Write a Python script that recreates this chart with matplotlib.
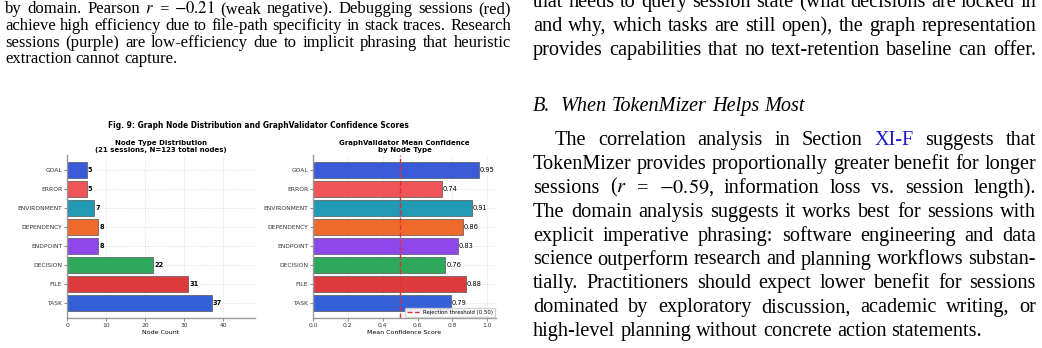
import matplotlib
matplotlib.use("Agg")
import matplotlib.pyplot as plt

W, H = 1042, 348

# chart data (bottom to top)
node_types = ['TASK', 'FILE', 'DECISION', 'ENDPOINT', 'DEPENDENCY', 'ENVIRONMENT', 'ERROR', 'GOAL']
node_counts = [37, 31, 22, 8, 8, 7, 5, 5]
mean_conf = [0.79, 0.88, 0.76, 0.83, 0.86, 0.91, 0.74, 0.95]
bar_colors = ['#3461d8', '#dd3b3b', '#2ea95c', '#8e47ea', '#ee6a2a', '#2299b5', '#ef5458', '#3a5bd9']
threshold = 0.50

# surrounding page text
left_lines = [
    "by domain. Pearson $r$ = $-0.21$ (weak negative). Debugging sessions (red)",
    "achieve high efficiency due to file-path specificity in stack traces. Research",
    "sessions (purple) are low-efficiency due to implicit phrasing that heuristic",
    "extraction cannot capture.",
]
right_top = [
    "that needs to query session state (what decisions are locked in",
    "and why, which tasks are still open), the graph representation",
    "provides capabilities that no text-retention baseline can offer.",
]
heading = "B.  When TokenMizer Helps Most"
right_para = [
    "The correlation analysis in Section XI-F suggests that",
    "TokenMizer provides proportionally greater benefit for longer",
    "sessions ($r$ = $-0.59$, information loss vs. session length).",
    "The domain analysis suggests it works best for sessions with",
    "explicit imperative phrasing: software engineering and data",
    "science outperform research and planning workflows substan-",
    "tially. Practitioners should expect lower benefit for sessions",
    "dominated by exploratory discussion, academic writing, or",
    "high-level planning without concrete action statements.",
]
link_words = {'XI-F': '#1a1acc'}

plt.rcParams['mathtext.fontset'] = 'stix'

fig = plt.figure(figsize=(W / 100, H / 100), dpi=100)
renderer = fig.canvas.get_renderer()


def fx(px):
    return px / W


def fy(py):
    return 1 - py / H


def put_line(line, x0, x1, base, size, justify=True, style='normal'):
    words = line.split(' ')
    texts = []
    for w in words:
        t = fig.text(0, fy(base), w, fontsize=size, family='Liberation Serif',
                     style=style, color=link_words.get(w, 'black'), va='baseline')
        texts.append(t)
    widths = [t.get_window_extent(renderer).width for t in texts]
    natural = size * 100 / 72 * 0.25
    if justify and len(words) > 1:
        gap = (x1 - x0 - sum(widths)) / (len(words) - 1)
    else:
        gap = natural
    x = x0
    for t, w in zip(texts, widths):
        t.set_x(fx(x))
        x += w + gap


# left column text
lsize = 12
for i, line in enumerate(left_lines):
    put_line(line, 5, 511, 13 + 16.8 * i, lsize, justify=(i < len(left_lines) - 1))

# right column text
rsize = 14.6
for i, line in enumerate(right_top):
    put_line(line, 533, 1036, 7 + 24 * i, rsize)
put_line(heading, 533, 1036, 111, rsize, justify=False, style='italic')
for i, line in enumerate(right_para):
    x0 = 555 if i == 0 else 533
    put_line(line, x0, 1036, 145 + 23.9 * i, rsize, justify=(i < len(right_para) - 1))

# figure
fig.text(fx(258), fy(125), "Fig. 9: Graph Node Distribution and GraphValidator Confidence Scores",
         fontsize=5.45, fontweight='bold', ha='center', va='center')

ax1 = fig.add_axes([fx(67), fy(318), fx(255) - fx(67), fy(155) - fy(318)])
ax2 = fig.add_axes([fx(313), fy(318), fx(496) - fx(313), fy(155) - fy(318)])

ypos = list(range(len(node_types)))

ax1.barh(ypos, node_counts, height=0.8, color=bar_colors, edgecolor='#555555', linewidth=0.5)
for y, v in zip(ypos, node_counts):
    ax1.text(v + 0.3, y, str(v), fontsize=4.8, fontweight='bold', va='center', ha='left')
ax1.set_xlim(0, max(node_counts) * 1.3)
ax1.set_title("Node Type Distribution\n(21 sessions, N=123 total nodes)",
              fontsize=5.0, fontweight='bold', pad=2.5, linespacing=1.05)
ax1.set_xlabel("Node Count", fontsize=4.5, labelpad=1.5)

ax2.barh(ypos, mean_conf, height=0.8, color=bar_colors, edgecolor='#555555', linewidth=0.5)
for y, v in zip(ypos, mean_conf):
    ax2.text(v + 0.004, y, f"{v:.2f}", fontsize=4.8, va='center', ha='left')
ax2.axvline(threshold, color='#e03131', linestyle='--', linewidth=1.0,
            label=f"Rejection threshold ({threshold:.2f})")
ax2.set_xlim(0, 1.05)
ax2.set_xticks([0, 0.2, 0.4, 0.6, 0.8, 1.0])
ax2.set_title("GraphValidator Mean Confidence\nby Node Type",
              fontsize=5.0, fontweight='bold', pad=2.5, linespacing=1.05)
ax2.set_xlabel("Mean Confidence Score", fontsize=4.5, labelpad=1.5)
ax2.legend(loc='lower right', fontsize=3.9, frameon=True, handlelength=2.2,
           borderpad=0.35, framealpha=0.9, edgecolor='#cccccc', fancybox=True,
           borderaxespad=0.2)

for ax in (ax1, ax2):
    ax.set_yticks(ypos)
    ax.set_yticklabels(node_types)
    ax.tick_params(axis='both', labelsize=4.3, length=2, width=0.5, pad=1.5,
                   color='#555555', labelcolor='#333333')
    ax.set_axisbelow(True)
    ax.grid(True, linestyle='--', linewidth=0.4, alpha=0.4)
    ax.spines['top'].set_visible(False)
    ax.spines['right'].set_visible(False)
    ax.spines['left'].set_color('#999999')
    ax.spines['bottom'].set_color('#999999')
    ax.spines['left'].set_linewidth(1.0)
    ax.spines['bottom'].set_linewidth(1.0)
    ax.set_ylim(-0.79, len(node_types) - 0.21)

fig.savefig("out.png", dpi=100)
